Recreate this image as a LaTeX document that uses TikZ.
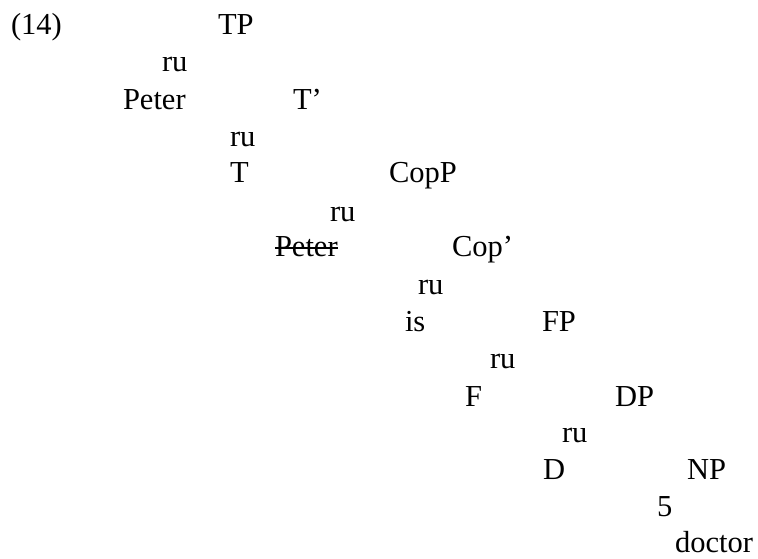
\documentclass[tikz,border=0pt]{standalone}
\usepackage{fontspec}
\setmainfont{Liberation Serif}
\begin{document}
\begin{tikzpicture}[x=1pt,y=1pt,
  lbl/.style={anchor=base west,inner sep=0pt,outer sep=0pt,font=\fontsize{30.5}{34}\selectfont}]
\useasboundingbox (0,0) rectangle (758,559);
\node[lbl] (num) at (11,524) {(14)};
\node[lbl] (tp) at (218,524) {TP};
\node[lbl] (b1) at (162,487) {ru};
\node[lbl] (peter) at (123,449) {Peter};
\node[lbl] (tbar) at (293,449) {T’};
\node[lbl] (b2) at (230,412) {ru};
\node[lbl] (t) at (230,376) {T};
\node[lbl] (copp) at (389,376) {CopP};
\node[lbl] (b3) at (330,337) {ru};
\node[lbl] (peter2) at (275,302) {Peter};
\node[lbl] (copbar) at (452,302) {Cop’};
\node[lbl] (b4) at (418,264) {ru};
\node[lbl] (is) at (405,227) {is};
\node[lbl] (fp) at (542,227) {FP};
\node[lbl] (b5) at (490,190) {ru};
\node[lbl] (f) at (465,152) {F};
\node[lbl] (dp) at (615,152) {DP};
\node[lbl] (b6) at (562,116) {ru};
\node[lbl] (d) at (543,79) {D};
\node[lbl] (np) at (687,79) {NP};
\node[lbl] (tri) at (657,42) {5};
\node[lbl] (doctor) at (675,6) {doctor};
\draw[line width=1.3pt] ([yshift=9pt]peter2.base west) -- ([yshift=9pt]peter2.base east);
\end{tikzpicture}
\end{document}
